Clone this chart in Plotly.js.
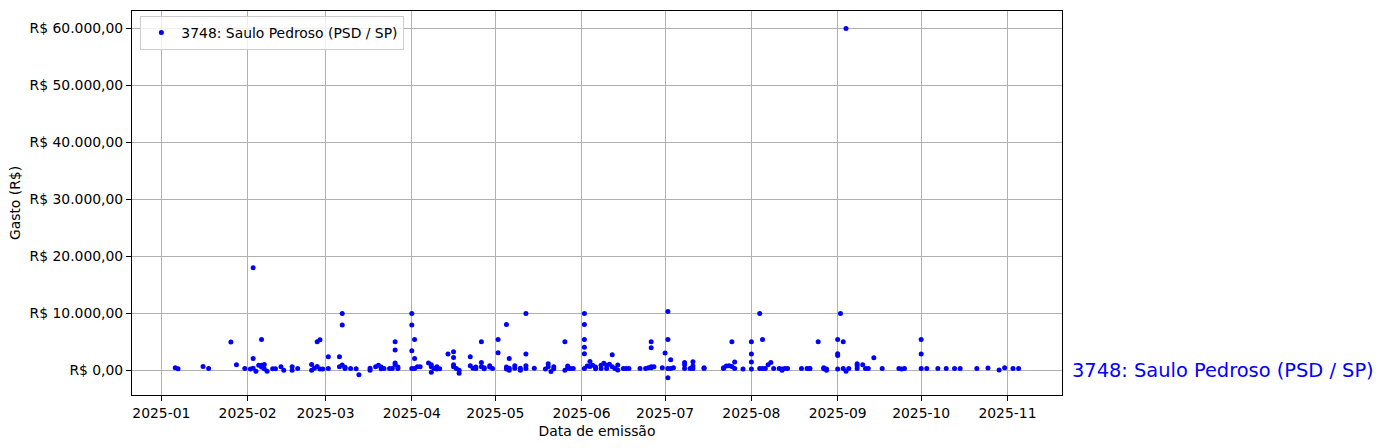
<!DOCTYPE html>
<html>
<head>
<meta charset="utf-8">
<script src="https://cdn.plot.ly/plotly-3.0.1.min.js"></script>
<style>html,body{margin:0;padding:0;background:#fff;}#chart{width:1383px;height:448px;}</style>
</head>
<body>
<div id="chart"></div>
<script>
const seriesName = "3748: Saulo Pedroso (PSD / SP)";
const dates = [
"2025-01-06","2025-01-07","2025-01-16","2025-01-18","2025-01-26","2025-01-28","2025-01-31",
"2025-02-02","2025-02-03","2025-02-03","2025-02-03","2025-02-04","2025-02-05","2025-02-06","2025-02-06","2025-02-06","2025-02-07","2025-02-07","2025-02-08",
"2025-02-10","2025-02-11","2025-02-13","2025-02-14","2025-02-17","2025-02-17","2025-02-19",
"2025-02-24","2025-02-24","2025-02-25","2025-02-26","2025-02-26","2025-02-27","2025-02-27","2025-02-28",
"2025-03-02","2025-03-02","2025-03-06","2025-03-06","2025-03-07","2025-03-07","2025-03-07","2025-03-08","2025-03-08",
"2025-03-10","2025-03-12","2025-03-13","2025-03-17","2025-03-17","2025-03-19","2025-03-20","2025-03-21","2025-03-21","2025-03-22",
"2025-03-24","2025-03-25","2025-03-26","2025-03-26","2025-03-26","2025-03-26","2025-03-27","2025-03-27",
"2025-04-01","2025-04-01","2025-04-01","2025-04-01","2025-04-02","2025-04-02","2025-04-02","2025-04-03","2025-04-04",
"2025-04-07","2025-04-08","2025-04-08","2025-04-08","2025-04-09","2025-04-10","2025-04-10","2025-04-11",
"2025-04-14","2025-04-16","2025-04-16","2025-04-16","2025-04-16","2025-04-17","2025-04-18","2025-04-18",
"2025-04-22","2025-04-22","2025-04-23","2025-04-24","2025-04-24","2025-04-26","2025-04-26","2025-04-26","2025-04-27","2025-04-27",
"2025-04-29","2025-04-29","2025-04-30",
"2025-05-02","2025-05-02","2025-05-05","2025-05-05","2025-05-05","2025-05-06","2025-05-06","2025-05-06","2025-05-08","2025-05-08",
"2025-05-10","2025-05-10","2025-05-12","2025-05-12","2025-05-12","2025-05-12","2025-05-15",
"2025-05-19","2025-05-20","2025-05-20","2025-05-21","2025-05-22","2025-05-22",
"2025-05-26","2025-05-26","2025-05-27","2025-05-27","2025-05-28","2025-05-29",
"2025-06-02","2025-06-02","2025-06-02","2025-06-02","2025-06-02","2025-06-02","2025-06-03","2025-06-04","2025-06-04","2025-06-05",
"2025-06-06","2025-06-06","2025-06-08","2025-06-08","2025-06-09","2025-06-10","2025-06-10","2025-06-11","2025-06-12","2025-06-12",
"2025-06-13","2025-06-14","2025-06-14","2025-06-16","2025-06-17","2025-06-18","2025-06-22","2025-06-24","2025-06-25","2025-06-26",
"2025-06-26","2025-06-27","2025-06-26","2025-06-26","2025-06-30",
"2025-07-01","2025-07-02","2025-07-02","2025-07-02","2025-07-02","2025-07-03","2025-07-03","2025-07-04",
"2025-07-08","2025-07-08","2025-07-08","2025-07-10","2025-07-11","2025-07-11","2025-07-11","2025-07-15","2025-07-15",
"2025-07-22","2025-07-22","2025-07-23","2025-07-24","2025-07-25","2025-07-25","2025-07-26","2025-07-26","2025-07-29",
"2025-08-01","2025-08-01","2025-08-01","2025-08-01","2025-08-04","2025-08-04","2025-08-05","2025-08-05","2025-08-06",
"2025-08-07","2025-08-08","2025-08-09","2025-08-11","2025-08-12","2025-08-12","2025-08-13","2025-08-14",
"2025-08-19","2025-08-21","2025-08-22","2025-08-22","2025-08-25","2025-08-27","2025-08-27","2025-08-28","2025-08-28",
"2025-09-01","2025-09-01","2025-09-01","2025-09-01","2025-09-02","2025-09-03","2025-09-03","2025-09-04","2025-09-04","2025-09-05",
"2025-09-08","2025-09-08","2025-09-08","2025-09-10","2025-09-11","2025-09-12","2025-09-14","2025-09-17",
"2025-09-23","2025-09-24","2025-09-25","2025-10-01","2025-10-01","2025-10-01",
"2025-10-03","2025-10-07","2025-10-10","2025-10-13","2025-10-15","2025-10-21","2025-10-25","2025-10-29","2025-10-31",
"2025-11-03","2025-11-05"
];
const values = [
500,300,700,350,5000,1000,350,
250,18000,2100,400,-150,900,5450,900,600,1050,300,-150,
300,300,650,50,650,50,350,
1050,50,400,700,5050,5400,250,250,
2400,350,2400,650,10000,8000,950,550,350,
350,300,-750,50,400,650,900,300,600,350,
350,350,5030,3600,1300,1000,600,350,
10000,8000,3450,350,5450,2100,350,650,650,
1300,1000,650,-300,350,650,250,300,
2900,3300,2300,1000,650,350,50,-470,
2400,850,400,600,350,5030,1400,650,300,500,
850,600,350,
5450,3100,8050,600,250,2100,400,50,850,400,
50,400,10000,2900,850,350,400,
250,1200,650,-175,300,650,
5030,50,800,350,350,350,
10000,8050,5450,4090,2920,350,800,1580,700,900,
600,300,900,350,1280,900,350,1100,650,2750,
350,100,950,350,350,350,350,350,500,500,
650,650,5030,4000,500,
3050,10350,5450,350,-1280,1880,350,500,
1400,1000,350,350,1520,800,350,500,350,
350,500,800,850,5030,700,1500,350,250,
5030,2900,1500,250,10000,350,5450,350,350,
1000,1400,350,350,50,250,350,350,
350,350,350,350,5030,500,300,250,50,
5450,2950,2650,250,10000,5030,350,60000,-150,350,
1200,850,350,1000,350,350,2230,350,
350,250,350,5450,2900,350,
350,350,350,350,350,350,450,100,500,
350,350
];
const yTickVals = [0,10000,20000,30000,40000,50000,60000];
const yTickText = ["R$ 0,00","R$ 10.000,00","R$ 20.000,00","R$ 30.000,00","R$ 40.000,00","R$ 50.000,00","R$ 60.000,00"];
const xTickVals = ["2025-01-01","2025-02-01","2025-03-01","2025-04-01","2025-05-01","2025-06-01","2025-07-01","2025-08-01","2025-09-01","2025-10-01","2025-11-01"];
const xTickText = ["2025-01","2025-02","2025-03","2025-04","2025-05","2025-06","2025-07","2025-08","2025-09","2025-10","2025-11"];

const FONT = "DejaVu Sans, sans-serif";
const trace = {
  x: dates, y: values, type: "scatter", mode: "markers", name: seriesName,
  marker: {color: "#0000ff", size: 5, line: {width: 0}}
};
const layout = {
  width: 1383, height: 448,
  margin: {l: 132, r: 321, t: 11, b: 53},
  paper_bgcolor: "#fff", plot_bgcolor: "#fff",
  font: {family: FONT, size: 13.9, color: "#000"},
  showlegend: true,
  legend: {x: 0.009, y: 0.987, xanchor: "left", yanchor: "top",
    bgcolor: "rgba(255,255,255,0.8)", bordercolor: "#cccccc", borderwidth: 1,
    tracegroupgap: 0, itemwidth: 30,
    font: {family: FONT, size: 13.9, color: "#000"}},
  xaxis: {
    type: "date", range: ["2024-12-21T11:17:00", "2025-11-20T14:24:00"],
    tickvals: xTickVals, ticktext: xTickText,
    showgrid: true, gridcolor: "#b0b0b0", gridwidth: 1,
    showline: true, linecolor: "#000", linewidth: 1, mirror: true,
    ticks: "outside", ticklen: 5, tickcolor: "#000", zeroline: false,
    title: {text: "Data de emissão", font: {family: FONT, size: 13.9}, standoff: 6},
    automargin: false
  },
  yaxis: {
    range: [-4300, 63060],
    tickvals: yTickVals, ticktext: yTickText,
    showgrid: true, gridcolor: "#b0b0b0", gridwidth: 1,
    showline: true, linecolor: "#000", linewidth: 1, mirror: true,
    ticks: "outside", ticklen: 5, tickcolor: "#000", zeroline: false,
    title: {text: "Gasto (R$)", font: {family: FONT, size: 13.9}, standoff: 5},
    automargin: false
  },
  annotations: [{
    text: seriesName, xref: "paper", yref: "y", x: 1.009, y: 0,
    xanchor: "left", yanchor: "middle", showarrow: false,
    font: {family: FONT, size: 19.4, color: "#0000ff"}
  }]
};
Plotly.newPlot("chart", [trace], layout, {staticPlot: true, displayModeBar: false});
</script>
</body>
</html>
